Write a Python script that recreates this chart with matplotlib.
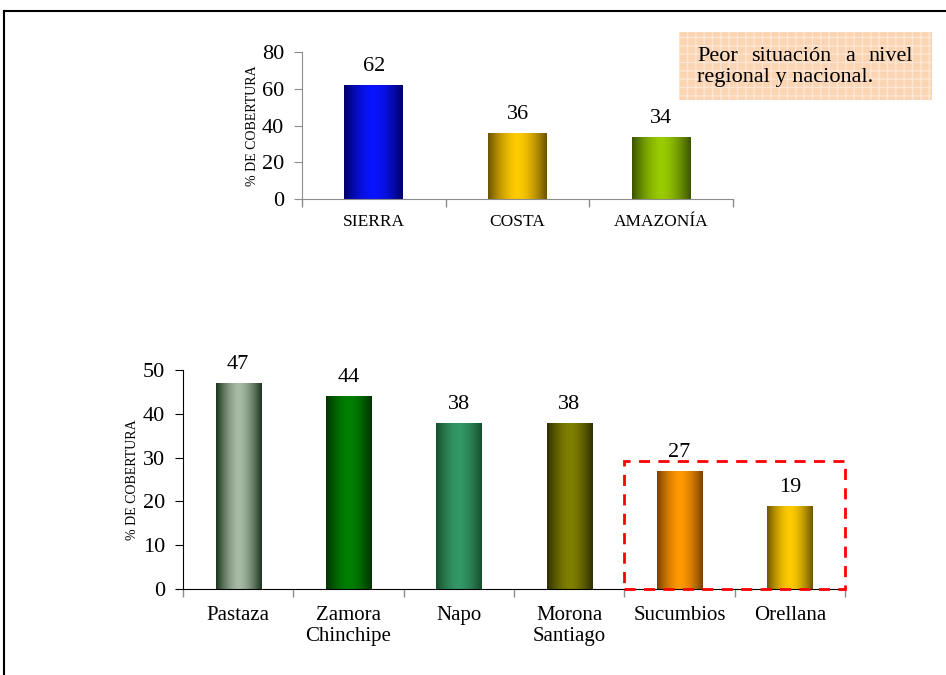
import numpy as np
import matplotlib
matplotlib.use("Agg")
import matplotlib.pyplot as plt
from matplotlib.colors import to_rgb
from matplotlib.patches import Rectangle
from matplotlib.lines import Line2D

plt.rcParams['font.family'] = ['Liberation Serif', 'DejaVu Serif']

# Regional coverage
regions = ["SIERRA", "COSTA", "AMAZONÍA"]
region_values = [62, 36, 34]
region_center_colors = ["#0a14ff", "#ffcc00", "#99cc00"]
region_edge_colors = ["#000066", "#6b5200", "#3a5200"]

# Provincial coverage (Amazon region)
provinces = ["Pastaza", "Zamora\nChinchipe", "Napo", "Morona\nSantiago", "Sucumbios", "Orellana"]
province_values = [47, 44, 38, 38, 27, 19]
province_center_colors = ["#a9bba5", "#008000", "#339966", "#808000", "#ff9900", "#ffcc00"]
province_edge_colors = ["#1a331a", "#003300", "#174d2c", "#2e2e00", "#7a3f00", "#6b5500"]

ylabel = "% DE COBERTURA"
note_line1 = ["Peor", "situación", "a", "nivel"]
note_line2 = "regional y nacional."


def gradient_bars(ax, values, centers, edges, width):
    x = np.arange(len(values))
    bars = ax.bar(x, values, width=width, color="none", edgecolor="none", zorder=2)
    t = np.linspace(0, 1, 256)
    prof = (np.abs(t - 0.5) * 2) ** 1.6
    for b, c, e in zip(bars, centers, edges):
        c = np.array(to_rgb(c)); e = np.array(to_rgb(e))
        img = (c[None, :] + (e - c)[None, :] * prof[:, None])[None, :, :]
        x0, y0 = b.get_x(), b.get_y()
        im = ax.imshow(img, extent=(x0, x0 + b.get_width(), y0, y0 + b.get_height()),
                       aspect="auto", interpolation="bilinear", zorder=2)
        im.set_clip_path(b)
    return bars


def style_axes(ax, n, spine_color, ymax, step, tick_fs, cat_fs, cat_pad):
    ax.set_xlim(-0.5, n - 0.5)
    ax.set_ylim(0, ymax)
    ax.set_yticks(np.arange(0, ymax + 1, step))
    for s in ["top", "right"]:
        ax.spines[s].set_visible(False)
    ax.spines["left"].set_color(spine_color)
    ax.spines["bottom"].set_color(spine_color)
    ax.set_xticks(np.arange(n))
    ax.set_xticks(np.arange(n + 1) - 0.5, minor=True)
    ax.tick_params(axis="x", which="major", length=0, pad=cat_pad, labelsize=cat_fs)
    ax.tick_params(axis="x", which="minor", length=6, color="#8c8c8c", width=1)
    ax.tick_params(axis="y", length=6, color=spine_color, labelsize=tick_fs, pad=7)


fig = plt.figure(figsize=(9.46, 6.75), dpi=100)

# Top chart: coverage by region
ax1 = fig.add_axes([302 / 946, 1 - 199 / 675, 431 / 946, 147 / 675])
gradient_bars(ax1, region_values, region_center_colors, region_edge_colors, 0.41)
style_axes(ax1, 3, "#8c8c8c", 80, 20, 16, 12.5, 11)
ax1.set_xticklabels(regions)
ax1.set_ylabel(ylabel, fontsize=10)
ax1.yaxis.set_label_coords((259 - 302) / 431, 0.5)
for i, v in enumerate(region_values):
    ax1.annotate(f"{v}", (i, v), xytext=(0, 14), textcoords="offset pixels",
                 ha="center", va="baseline", fontsize=16)

# Bottom chart: coverage by province
ax2 = fig.add_axes([183 / 946, 1 - 589 / 675, 662 / 946, 219 / 675])
gradient_bars(ax2, province_values, province_center_colors, province_edge_colors, 0.41)
style_axes(ax2, 6, "black", 50, 10, 16, 15, 12)
ax2.set_xticklabels(provinces, linespacing=1.2)
ax2.set_ylabel(ylabel, fontsize=10)
ax2.yaxis.set_label_coords((139 - 183) / 662, 0.5)
for i, v in enumerate(province_values):
    ax2.annotate(f"{v}", (i, v), xytext=(0, 14), textcoords="offset pixels",
                 ha="center", va="baseline", fontsize=16)

# Dashed highlight around the lowest two provinces
ax2.add_patch(Rectangle((3.5, 0), 2.0, 29.2, fill=False, edgecolor="#ff0000",
                        linestyle=(0, (4, 3)), linewidth=2, clip_on=False, zorder=4))

# Note box with justified first line
note = Rectangle((679 / 946, 1 - 100 / 675), 253 / 946, 68 / 675, transform=fig.transFigure,
                 facecolor="#fbd4b4", edgecolor="#fde6d4", hatch="++", linewidth=0)
fig.add_artist(note)
left_px, right_px = 697, 913
renderer = fig.canvas.get_renderer()
words = [fig.text(0, 1 - 61 / 675, w, fontsize=16, va="baseline", ha="left") for w in note_line1]
widths = [w.get_window_extent(renderer).width for w in words]
gap = (right_px - left_px - sum(widths)) / (len(words) - 1)
xpos = left_px
for w, wd in zip(words, widths):
    w.set_x(xpos / 946)
    xpos += wd + gap
fig.text(left_px / 946, 1 - 82 / 675, note_line2, fontsize=16, va="baseline", ha="left")

# Page frame
fig.add_artist(Line2D([4 / 946, 1], [1 - 11 / 675, 1 - 11 / 675], color="black", lw=1.5,
                      transform=fig.transFigure))
fig.add_artist(Line2D([4 / 946, 4 / 946], [0, 1 - 11 / 675], color="black", lw=1.5,
                      transform=fig.transFigure))

fig.savefig("out.png", dpi=100)
